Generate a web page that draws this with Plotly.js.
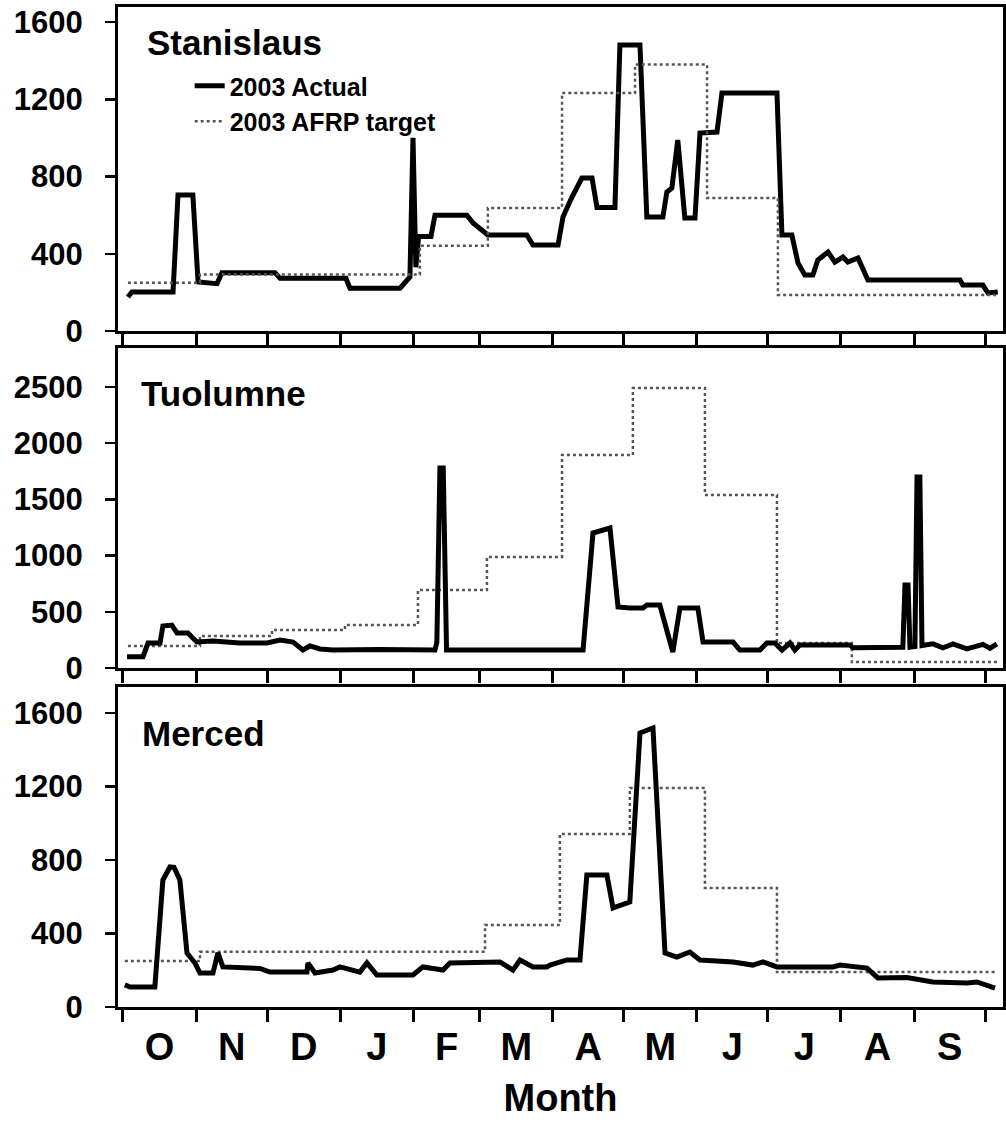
<!DOCTYPE html>
<html>
<head>
<meta charset="utf-8">
<script src="https://cdn.plot.ly/plotly-3.0.1.min.js"></script>
<style>html,body{margin:0;padding:0;background:#fff;}#chart{width:1006px;height:1124px;}</style>
</head>
<body>
<div id="chart"></div>
<script>
// Day of water year (0 = 1 October)
const monthStarts = [0,31,61,92,123,151,182,212,243,273,304,335,365];
const monthLabels = ['O','N','D','J','F','M','A','M','J','J','A','S'];
const panelNames = ['Stanislaus','Tuolumne','Merced'];
const seriesNames = ['2003 Actual','2003 AFRP target'];

const stanDays = [2.1,3.8,21.2,23.3,29.6,31.8,39.8,41.9,64.4,66.5,94.4,96.1,117.3,121.5,122.8,124.0,125.2,130.4,132.1,145.6,148.2,154.5,171.0,173.6,184.2,186.3,190.1,194.3,198.6,200.7,208.3,210.4,218.9,221.8,228.6,230.3,232.4,234.9,237.9,242.2,244.3,251.5,253.6,276.9,279.0,283.2,285.8,288.7,292.1,294.2,298.5,301.4,304.8,306.9,311.2,315.4,354.4,355.6,364.1,366.2,370.4];
const stanActual = [176,202,202,704,704,254,245,302,302,273,273,222,222,280,1000,330,490,490,600,600,559,497,497,445,445,590,694,792,792,640,640,1481,1481,590,590,720,740,989,585,585,1025,1030,1232,1232,497,497,352,290,290,368,409,357,383,357,378,264,264,238,238,197,202];
const stanTargetDays = [2.1,32.6,125.7,154.5,185.9,216.8,247.3,277.3,370.4];
const stanTarget = [250,292,442,637,1232,1380,689,186,186];

const tuolDays = [1.7,8.5,10.6,15.7,16.9,20.7,22.9,27.5,31.3,38.1,49.5,61.0,66.5,72.0,76.2,79.2,83.4,88.9,108.8,132.1,132.9,134.2,135.6,137.0,194.8,199.0,206.2,209.6,214.6,220.2,221.8,227.3,232.8,235.8,243.4,245.6,258.3,261.2,269.7,272.6,276.0,279.0,282.4,284.5,286.6,307.8,309.1,326.0,330.2,331.1,332.4,333.2,335.3,336.2,337.4,338.3,342.9,347.2,351.4,357.3,364.1,367.1,370.0];
const tuolActual = [101,101,222,222,374,382,311,311,231,240,222,222,248,231,160,196,169,160,165,160,230,1779,1779,160,160,1201,1245,543,534,534,560,560,142,534,534,231,231,160,160,222,222,160,222,160,205,205,180,180,185,738,738,185,190,1700,1700,200,215,180,215,170,210,175,215];
const tuolTargetDays = [2.1,32.6,63.1,94.0,124.9,154.1,185.9,215.9,246.4,276.9,308.6,370.4];
const tuolTarget = [196,285,338,383,694,988,1895,2491,1539,222,53,53];

const mercDays = [0.8,3.0,13.5,16.9,19.9,21.6,24.1,27.1,30.5,32.6,38.1,40.2,42.3,58.0,62.2,77.9,78.3,81.3,88.9,91.9,100.3,103.3,107.5,122.8,127.0,135.5,138.4,159.6,165.1,168.1,173.6,179.5,180.8,188.0,193.5,196.4,204.9,207.5,214.6,218.9,224.4,229.5,234.5,240.0,244.3,258.3,266.7,271.0,276.9,300.6,303.6,315.0,319.6,331.9,342.9,357.3,361.6,369.2];
const mercActual = [120,109,109,691,762,760,691,294,239,185,185,294,218,210,190,190,240,185,201,218,190,240,174,174,218,201,239,245,201,256,218,218,228,256,256,718,718,539,571,1491,1518,294,272,299,256,245,228,245,218,218,228,212,158,160,136,130,136,103];
const mercTargetDays = [0.8,32.6,153.3,185.0,214.6,246.4,276.9,369.2];
const mercTarget = [250,300,446,941,1192,648,190,180];

const yTicks1 = [0,400,800,1200,1600];
const yTicks2 = [0,500,1000,1500,2000,2500];
const yTicks3 = [0,400,800,1200,1600];

const FONT = 'Liberation Sans, Arial, Helvetica, sans-serif';
const xRange = [-2.1, 372.6];
const monthMids = monthLabels.map((m,i) => (monthStarts[i] + monthStarts[i+1]) / 2);

const actualLine = {color:'#000', width:5};
const targetLine = {color:'#555', width:2.5, dash:'dot', shape:'hv'};

const traces = [
  {x:stanDays, y:stanActual, xaxis:'x', yaxis:'y', mode:'lines', name:seriesNames[0], line:actualLine, showlegend:true},
  {x:stanTargetDays, y:stanTarget, xaxis:'x', yaxis:'y', mode:'lines', name:seriesNames[1], line:targetLine, showlegend:true},
  {x:tuolTargetDays, y:tuolTarget, xaxis:'x2', yaxis:'y2', mode:'lines', name:seriesNames[1], line:targetLine, showlegend:false},
  {x:tuolDays, y:tuolActual, xaxis:'x2', yaxis:'y2', mode:'lines', name:seriesNames[0], line:actualLine, showlegend:false},
  {x:mercTargetDays, y:mercTarget, xaxis:'x3', yaxis:'y3', mode:'lines', name:seriesNames[1], line:targetLine, showlegend:false},
  {x:mercDays, y:mercActual, xaxis:'x3', yaxis:'y3', mode:'lines', name:seriesNames[0], line:actualLine, showlegend:false},
  // carrier for the month-label axis (no visible marks)
  {x:monthMids, y:monthMids.map(() => null), xaxis:'x4', yaxis:'y3', mode:'lines', showlegend:false, hoverinfo:'skip'}
];

function xAx(anchor){
  return {anchor:anchor, domain:[0,1], range:xRange, tickmode:'array', tickvals:monthStarts,
    ticks:'outside', ticklen:12, tickwidth:3, tickcolor:'#000', showticklabels:false,
    showline:true, linewidth:3, linecolor:'#000', mirror:true, showgrid:false, zeroline:false, fixedrange:true};
}
function yAx(anchor, domain, range, ticks){
  return {anchor:anchor, domain:domain, range:range, tickmode:'array', tickvals:ticks,
    ticks:'outside', ticklen:10, tickwidth:2.5, tickcolor:'#000', ticklabelstandoff:16,
    tickfont:{family:FONT, size:31, color:'#000', weight:'bold'},
    showline:true, linewidth:3, linecolor:'#000', mirror:true, showgrid:false, zeroline:false, fixedrange:true};
}

const titleFont = {family:FONT, size:35, color:'#000', weight:'bold'};
const layout = {
  width:1006, height:1124,
  margin:{l:118, r:3, t:7, b:117},
  paper_bgcolor:'#fff', plot_bgcolor:'#fff',
  showlegend:true,
  legend:{x:0.081, y:0.944, xref:'paper', yref:'paper', xanchor:'left', yanchor:'top',
    bgcolor:'rgba(0,0,0,0)', borderwidth:0, tracegroupgap:0,
    font:{family:FONT, size:25, color:'#000', weight:'bold'}},
  xaxis:xAx('y'), xaxis2:xAx('y2'), xaxis3:xAx('y3'),
  xaxis4:{overlaying:'x3', anchor:'y3', side:'bottom', range:xRange, tickmode:'array',
    tickvals:monthMids, ticktext:monthLabels, ticks:'', showline:false, showgrid:false, zeroline:false,
    ticklabelstandoff:14, tickfont:{family:FONT, size:38, color:'#000', weight:'bold'},
    title:{text:'Month', standoff:17, font:{family:FONT, size:38, color:'#000', weight:'bold'}}, fixedrange:true},
  yaxis:yAx('x', [0.676,1], [0,1678], yTicks1),
  yaxis2:yAx('x2', [0.339,0.659], [0,2847], yTicks2),
  yaxis3:yAx('x3', [0,0.32], [0,1741], yTicks3),
  annotations:[
    {text:panelNames[0], xref:'x domain', yref:'y domain', x:0.03, y:0.889, xanchor:'left', yanchor:'middle', showarrow:false, font:titleFont},
    {text:panelNames[1], xref:'x2 domain', yref:'y2 domain', x:0.024, y:0.859, xanchor:'left', yanchor:'middle', showarrow:false, font:titleFont},
    {text:panelNames[2], xref:'x3 domain', yref:'y3 domain', x:0.025, y:0.856, xanchor:'left', yanchor:'middle', showarrow:false, font:titleFont}
  ]
};

Plotly.newPlot('chart', traces, layout, {displayModeBar:false, staticPlot:true});
</script>
</body>
</html>
